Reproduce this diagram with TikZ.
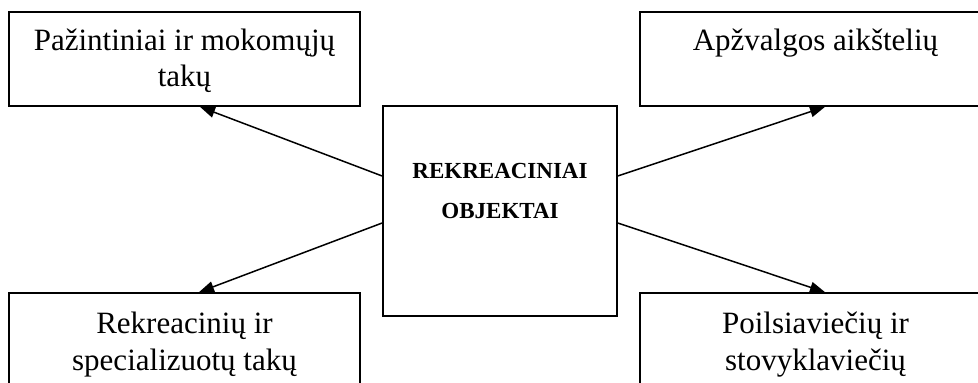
\documentclass[tikz,border=0pt]{standalone}
\usepackage{fontspec}
\setmainfont{Liberation Serif}
\usetikzlibrary{calc, arrows.meta, positioning}
\tikzset{
    rectanglenode/.style = {draw, rectangle, line width=1.7pt, inner sep = 0em, node distance=0em},
    bigboxnode/.style = {rectanglenode, minimum width=351pt, minimum height=94pt},
    textnode/.style  = {draw=none, fill=none, rectangle, inner sep = 0em, node distance=0em,
      font=\fontsize{31}{36.5}\selectfont},
    boldtextnode/.style  = {textnode, font=\fontsize{23}{40}\selectfont\bfseries},
    connect/.style = {black, line width=1.5pt, -{Triangle[length=15pt,width=11pt]}},
    every text node part/.style={align=center}
}

\begin{document}
\begin{tikzpicture}
    \useasboundingbox (0,0) rectangle (978pt,-383pt);
    \clip (0,0) rectangle (978pt,-383pt);

    \node [name=objektai, rectanglenode, minimum width=234pt, minimum height=210pt] at (500pt,-211pt) {};
    \node [name=objektaitext, boldtextnode, below=58pt of objektai.north] {REKREACINIAI\\OBJEKTAI};

    \node [name=pazintiniai, bigboxnode, left of = objektai, xshift=-315.5pt, yshift=152pt] {};
    \node [name=apzvalgos, bigboxnode, right of = objektai, xshift=315.5pt, yshift=152pt] {};
    \node [name=rekreaciniu, bigboxnode, left of = objektai, xshift=-315.5pt, yshift=-129pt] {};
    \node [name=poilsiavieciu, bigboxnode, right of = objektai, xshift=315.5pt, yshift=-129pt] {};

    \node [name=pazintiniaitext, textnode, below=17.5pt of pazintiniai.north] {Pažintiniai ir mokomųjų\\takų};
    \node [name=apzvalgostext, textnode, below=18pt of apzvalgos.north] {Apžvalgos aikštelių};
    \node [name=rekreaciniutext, textnode, below=20pt of rekreaciniu.north] {Rekreacinių ir\\specializuotų takų};
    \node [name=poilsiavieciutext, textnode, below=20pt of poilsiavieciu.north] {Poilsiaviečių ir\\stovyklaviečių};

    % arrows out of the middle box
    \draw [connect] ($(objektai.west)+(0,35pt)$) -- ($(pazintiniai.south)+(15.5pt,0)$);
    \draw [connect] ($(objektai.west)+(0,-12pt)$) -- ($(rekreaciniu.north)+(14.5pt,0)$);
    \draw [connect] ($(objektai.east)+(0,35pt)$) -- ($(apzvalgos.south)+(9.5pt,0)$);
    \draw [connect] ($(objektai.east)+(0,-12pt)$) -- ($(poilsiavieciu.north)+(9.5pt,0)$);
\end{tikzpicture}
\end{document}
